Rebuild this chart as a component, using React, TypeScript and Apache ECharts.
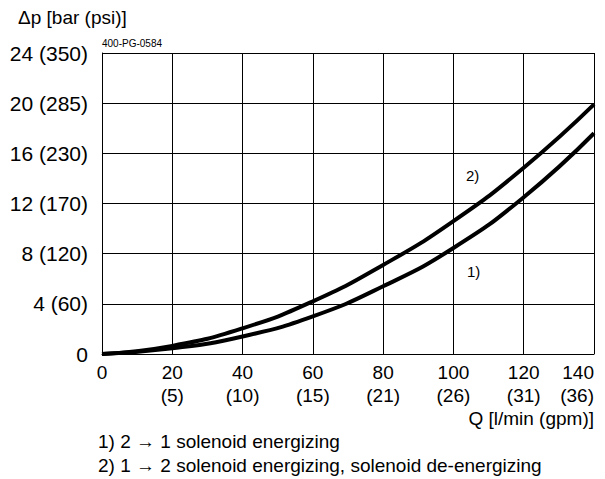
import React, { useEffect, useRef } from "react";
import * as echarts from "echarts";

const flowLpm = [0, 20, 40, 60, 80, 100, 120, 140];
const flowGpm = ["", "(5)", "(10)", "(15)", "(21)", "(26)", "(31)", "(36)"];
const curve1 = [0, 0.45, 1.4, 3.0, 5.4, 8.45, 12.5, 17.6];
const curve2 = [0, 0.65, 2.05, 4.2, 7.1, 10.6, 14.85, 19.9];
const yTicks = [0, 4, 8, 12, 16, 20, 24];
const yPsi = ["", "(60)", "(120)", "(170)", "(230)", "(285)", "(350)"];

const FONT = "Liberation Sans, Arial, sans-serif";

export default function App() {
  const ref = useRef<HTMLDivElement>(null);
  useEffect(() => {
    if (!ref.current) return;
    const chart = echarts.init(ref.current, null, { renderer: "svg" });
    const fs = 19;
    chart.setOption({
      animation: false,
      textStyle: { fontFamily: FONT },
      grid: { left: 102, right: 11, top: 53, bottom: 125, containLabel: false, outerBoundsMode: "none" },
      xAxis: {
        type: "value",
        min: 0,
        max: 140,
        interval: 20,
        axisLine: { show: true, lineStyle: { color: "#000", width: 1 } },
        axisTick: { show: false },
        splitLine: { show: true, lineStyle: { color: "#000", width: 1 } },
        axisLabel: {
          margin: 7,
          color: "#000",
          fontSize: fs,
          fontFamily: FONT,
          lineHeight: 23,
          showMaxLabel: true,
          showMinLabel: true,
          alignMaxLabel: "right",
          formatter: (v: number) => {
            const i = flowLpm.indexOf(v);
            const g = i >= 0 ? flowGpm[i] : "";
            return g ? `${v}\n${g}` : `${v}`;
          },
        },
      },
      yAxis: {
        type: "value",
        min: 0,
        max: 24,
        interval: 4,
        axisLine: { show: true, lineStyle: { color: "#000", width: 1 } },
        axisTick: { show: false },
        splitLine: { show: true, lineStyle: { color: "#000", width: 1 } },
        axisLabel: {
          margin: 14,
          color: "#000",
          fontSize: 21,
          fontFamily: FONT,
          showMaxLabel: true,
          formatter: (v: number) => {
            const i = yTicks.indexOf(v);
            const p = i >= 0 ? yPsi[i] : "";
            return p ? `${v} ${p}` : `${v}`;
          },
        },
      },
      series: [
        {
          name: "1)",
          type: "line",
          data: flowLpm.map((q, i) => [q, curve1[i]]),
          smooth: true,
          symbol: "none",
          lineStyle: { color: "#000", width: 4 },
        },
        {
          name: "2)",
          type: "line",
          data: flowLpm.map((q, i) => [q, curve2[i]]),
          smooth: true,
          symbol: "none",
          lineStyle: { color: "#000", width: 4 },
        },
      ],
      graphic: [
        { type: "text", left: 18, top: 8, style: { text: "Δp [bar (psi)]", fontSize: fs, fontFamily: FONT, fill: "#000" } },
        { type: "text", left: 102, top: 38, style: { text: "400-PG-0584", fontSize: 10, fontFamily: FONT, fill: "#000" } },
        { type: "text", x: 466, y: 175, style: { text: "2)", fontSize: 15, fontFamily: FONT, fill: "#000", verticalAlign: "middle" } },
        { type: "text", x: 467, y: 271, style: { text: "1)", fontSize: 15, fontFamily: FONT, fill: "#000", verticalAlign: "middle" } },
        { type: "text", x: 594, y: 418, style: { text: "Q [l/min (gpm)]", fontSize: fs, fontFamily: FONT, fill: "#000", align: "right", verticalAlign: "middle" } },
        { type: "text", x: 98, y: 441, style: { text: "1) 2 → 1 solenoid energizing", fontSize: fs, fontFamily: FONT, fill: "#000", verticalAlign: "middle" } },
        { type: "text", x: 98, y: 465, style: { text: "2) 1 → 2 solenoid energizing, solenoid de-energizing", fontSize: fs, fontFamily: FONT, fill: "#000", verticalAlign: "middle" } },
      ],
    });
    return () => chart.dispose();
  }, []);
  return <div ref={ref} style={{ width: 605, height: 479, position: "absolute", left: 0, top: 0 }} />;
}
